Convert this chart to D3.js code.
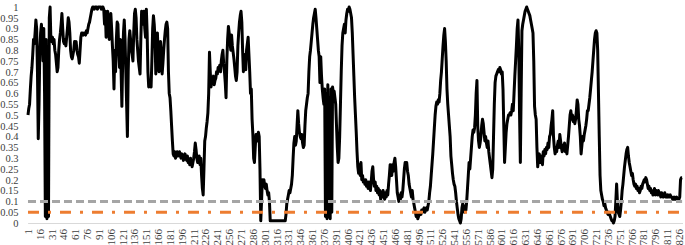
<!DOCTYPE html>
<html>
<head>
<meta charset="utf-8">
<script src="https://cdn.jsdelivr.net/npm/d3@7"></script>
<style>
  body { margin: 0; background: #fff; }
  svg text { font-family: "Liberation Serif", "Times New Roman", serif; }
</style>
</head>
<body>
<script>
// values, one per category (1..830)
const seriesValues = [
  0.50,0.53,0.55,0.62,0.68,0.72,0.78,0.85,0.83,0.88,
  0.94,0.90,0.70,0.39,0.55,0.80,0.88,0.92,0.86,0.75,
  0.90,0.60,0.03,0.85,0.02,0.40,0.03,0.95,1.00,0.85,
  0.84,0.86,0.83,0.85,0.80,0.78,0.74,0.70,0.72,0.80,
  0.85,0.88,0.92,0.97,0.90,0.84,0.83,0.85,0.82,0.86,
  0.90,0.95,0.93,0.88,0.80,0.77,0.76,0.78,0.80,0.84,
  0.83,0.84,0.80,0.78,0.77,0.74,0.80,0.86,0.88,0.88,
  0.87,0.88,0.88,0.87,0.89,0.88,0.90,0.92,0.93,0.95,
  0.97,0.99,1.00,1.00,0.99,1.00,1.00,1.00,0.99,1.00,
  1.00,1.00,1.00,0.99,1.00,1.00,0.99,0.92,0.98,0.86,
  0.88,0.98,0.90,0.85,0.93,0.97,0.90,0.82,0.75,0.62,
  0.80,0.70,0.85,0.93,0.92,0.80,0.72,0.85,0.70,0.54,
  0.75,0.88,0.94,0.85,0.70,0.55,0.40,0.70,0.85,0.89,
  0.85,0.80,0.78,0.75,0.88,0.97,0.99,0.95,0.85,0.80,
  0.75,0.72,0.69,0.85,0.98,0.97,0.92,0.98,0.90,0.86,
  0.99,0.88,0.70,0.63,0.64,0.65,0.63,0.75,0.90,0.96,
  0.92,0.85,0.69,0.80,0.88,0.78,0.70,0.75,0.84,0.78,
  0.69,0.74,0.80,0.85,0.89,0.92,0.93,0.90,0.70,0.60,
  0.58,0.52,0.45,0.38,0.32,0.31,0.33,0.30,0.32,0.33,
  0.31,0.32,0.33,0.31,0.30,0.32,0.31,0.29,0.30,0.32,
  0.30,0.29,0.31,0.28,0.29,0.27,0.30,0.29,0.26,0.28,
  0.30,0.33,0.37,0.34,0.30,0.28,0.29,0.31,0.27,0.30,
  0.22,0.16,0.13,0.25,0.38,0.40,0.44,0.47,0.51,0.60,
  0.79,0.70,0.63,0.66,0.65,0.68,0.64,0.66,0.67,0.70,
  0.69,0.72,0.71,0.73,0.70,0.75,0.78,0.80,0.74,0.70,
  0.65,0.58,0.75,0.85,0.91,0.88,0.84,0.80,0.87,0.82,
  0.79,0.76,0.72,0.68,0.66,0.70,0.82,0.88,0.93,0.96,
  0.98,0.93,0.80,0.70,0.78,0.75,0.71,0.80,0.83,0.86,
  0.78,0.70,0.60,0.62,0.48,0.41,0.30,0.28,0.35,0.41,
  0.38,0.40,0.42,0.40,0.25,0.01,0.10,0.20,0.18,0.20,
  0.17,0.16,0.18,0.15,0.13,0.14,0.10,0.01,0.01,0.01,
  0.01,0.01,0.01,0.01,0.01,0.01,0.01,0.01,0.01,0.01,
  0.01,0.01,0.01,0.01,0.01,0.01,0.01,0.04,0.09,0.11,
  0.13,0.15,0.14,0.16,0.18,0.22,0.30,0.37,0.40,0.36,
  0.38,0.45,0.52,0.46,0.42,0.40,0.39,0.41,0.37,0.35,
  0.36,0.45,0.52,0.55,0.58,0.60,0.70,0.77,0.80,0.84,
  0.88,0.92,0.95,0.97,0.99,0.95,0.90,0.85,0.80,0.77,
  0.65,0.77,0.68,0.62,0.58,0.55,0.62,0.03,0.60,0.02,
  0.64,0.03,0.58,0.02,0.62,0.05,0.63,0.60,0.61,0.58,
  0.55,0.45,0.35,0.28,0.30,0.40,0.55,0.70,0.82,0.88,
  0.90,0.92,0.88,0.94,0.97,0.99,0.98,1.00,0.99,0.97,
  0.95,0.88,0.78,0.68,0.58,0.50,0.42,0.33,0.26,0.23,
  0.27,0.22,0.28,0.20,0.22,0.19,0.20,0.18,0.20,0.17,
  0.19,0.16,0.19,0.17,0.15,0.19,0.24,0.26,0.20,0.17,
  0.19,0.15,0.17,0.14,0.16,0.13,0.15,0.11,0.14,0.12,
  0.15,0.13,0.11,0.14,0.12,0.15,0.13,0.18,0.22,0.27,
  0.25,0.22,0.27,0.24,0.28,0.30,0.26,0.20,0.14,0.12,
  0.10,0.13,0.11,0.14,0.12,0.15,0.20,0.25,0.28,0.26,
  0.28,0.24,0.22,0.18,0.16,0.14,0.12,0.15,0.11,0.09,
  0.07,0.05,0.03,0.04,0.02,0.03,0.04,0.05,0.04,0.06,
  0.05,0.06,0.07,0.05,0.06,0.07,0.06,0.08,0.10,0.14,
  0.17,0.22,0.27,0.32,0.38,0.44,0.50,0.54,0.56,0.55,
  0.57,0.56,0.60,0.66,0.70,0.76,0.82,0.87,0.90,0.84,
  0.75,0.62,0.55,0.50,0.45,0.40,0.31,0.27,0.23,0.20,
  0.18,0.17,0.14,0.10,0.07,0.04,0.02,0.01,0.00,0.02,
  0.07,0.09,0.06,0.05,0.08,0.06,0.10,0.16,0.22,0.28,
  0.25,0.30,0.35,0.40,0.43,0.42,0.44,0.50,0.60,0.66,
  0.45,0.38,0.35,0.37,0.40,0.45,0.48,0.46,0.42,0.38,
  0.40,0.37,0.35,0.38,0.33,0.30,0.27,0.24,0.21,0.25,
  0.40,0.55,0.65,0.68,0.69,0.70,0.71,0.70,0.72,0.71,
  0.69,0.70,0.62,0.45,0.28,0.35,0.42,0.46,0.48,0.50,
  0.50,0.51,0.50,0.52,0.55,0.52,0.60,0.68,0.75,0.82,
  0.90,0.94,0.80,0.50,0.28,0.60,0.89,0.92,0.94,0.96,
  0.98,0.99,1.00,0.99,0.98,0.97,0.96,0.94,0.92,0.90,
  0.88,0.75,0.54,0.50,0.48,0.35,0.26,0.30,0.32,0.28,
  0.31,0.30,0.27,0.33,0.31,0.34,0.32,0.35,0.34,0.37,
  0.35,0.40,0.41,0.45,0.48,0.52,0.40,0.35,0.32,0.35,
  0.33,0.36,0.38,0.35,0.41,0.38,0.35,0.33,0.36,0.34,
  0.37,0.33,0.35,0.32,0.36,0.40,0.45,0.50,0.52,0.48,
  0.50,0.47,0.49,0.46,0.48,0.52,0.57,0.55,0.48,0.45,
  0.40,0.32,0.36,0.40,0.38,0.41,0.43,0.45,0.48,0.52,
  0.52,0.55,0.58,0.62,0.66,0.70,0.75,0.80,0.85,0.88,
  0.89,0.88,0.80,0.60,0.40,0.22,0.15,0.13,0.11,0.10,
  0.08,0.09,0.07,0.06,0.05,0.04,0.05,0.04,0.03,0.02,
  0.01,0.01,0.00,0.01,0.03,0.10,0.18,0.10,0.05,0.04,
  0.03,0.06,0.10,0.15,0.18,0.22,0.26,0.29,0.32,0.34,
  0.35,0.31,0.28,0.26,0.24,0.22,0.23,0.20,0.18,0.17,
  0.18,0.16,0.17,0.15,0.16,0.14,0.15,0.17,0.16,0.18,
  0.19,0.20,0.19,0.21,0.20,0.18,0.16,0.17,0.15,0.16,
  0.14,0.15,0.13,0.14,0.16,0.13,0.15,0.14,0.13,0.15,
  0.13,0.14,0.12,0.14,0.13,0.12,0.13,0.14,0.12,0.13,
  0.12,0.13,0.12,0.12,0.13,0.12,0.12,0.11,0.11,0.12,
  0.11,0.11,0.12,0.11,0.11,0.11,0.12,0.20,0.21,0.21
];

const categories = seriesValues.map((v, i) => i + 1);

// the two dashed reference levels
const grayLevel = 0.1;
const orangeLevel = 0.05;

const xTickLabels = [1, 16, 31, 46, 61, 76, 91, 106, 121, 136, 151, 166, 181, 196,
  211, 226, 241, 256, 271, 286, 301, 316, 331, 346, 361, 376, 391, 406, 421, 436,
  451, 466, 481, 496, 511, 526, 541, 556, 571, 586, 601, 616, 631, 646, 661, 676,
  691, 706, 721, 736, 751, 766, 781, 796, 811, 826];

const yTickLabels = [0, 0.05, 0.1, 0.15, 0.2, 0.25, 0.3, 0.35, 0.4, 0.45, 0.5,
  0.55, 0.6, 0.65, 0.7, 0.75, 0.8, 0.85, 0.9, 0.95, 1];

let svg = d3.select('body').append('svg')
    .attr('width', 685)
    .attr('height', 245);

let x = d3.scaleBand()
    .domain(categories)
    .range([27.6, 682.5]);

let y = d3.scaleLinear()
    .domain([0, 1])
    .range([223, 7]);

const cx = (c) => x(c) + x.bandwidth() / 2;

// y axis, labels only
let yAxis = svg.append('g')
    .attr('transform', 'translate(27,0)')
    .call(d3.axisLeft(y)
        .tickValues(yTickLabels)
        .tickSize(0)
        .tickPadding(8.5)
        .tickFormat((d) => String(+d.toFixed(2))));
yAxis.select('.domain').remove();
yAxis.selectAll('text')
    .attr('font-size', 10.5)
    .attr('font-family', '"Liberation Serif", serif')
    .attr('fill', '#404040');

// x axis with vertical labels
let xAxis = svg.append('g')
    .attr('transform', 'translate(0,223)')
    .call(d3.axisBottom(x)
        .tickValues(xTickLabels)
        .tickSize(0)
        .tickSizeOuter(0));
xAxis.select('.domain')
    .attr('stroke', '#d9d9d9')
    .attr('stroke-width', 1);
xAxis.selectAll('text')
    .attr('font-size', 11)
    .attr('font-family', '"Liberation Serif", serif')
    .attr('fill', '#404040')
    .attr('transform', 'rotate(-90)')
    .attr('x', -6)
    .attr('y', 0)
    .attr('dy', '0.35em')
    .style('text-anchor', 'end');

let line = d3.line()
    .x((d, i) => cx(categories[i]))
    .y((d) => y(d));

svg.append('path')
    .datum(seriesValues)
    .attr('d', line)
    .attr('fill', 'none')
    .attr('stroke', '#000')
    .attr('stroke-width', 3)
    .attr('stroke-linejoin', 'round');

let levelLine = (level) => d3.line()
    .x((c) => cx(c))
    .y(() => y(level));

svg.append('path')
    .datum(categories)
    .attr('d', levelLine(grayLevel))
    .attr('fill', 'none')
    .attr('stroke', '#a5a5a5')
    .attr('stroke-width', 3)
    .attr('stroke-dasharray', '8,4');

svg.append('path')
    .datum(categories)
    .attr('d', levelLine(orangeLevel))
    .attr('fill', 'none')
    .attr('stroke', '#ed7d31')
    .attr('stroke-width', 3)
    .attr('stroke-dasharray', '11,9,3,9');
</script>
</body>
</html>
